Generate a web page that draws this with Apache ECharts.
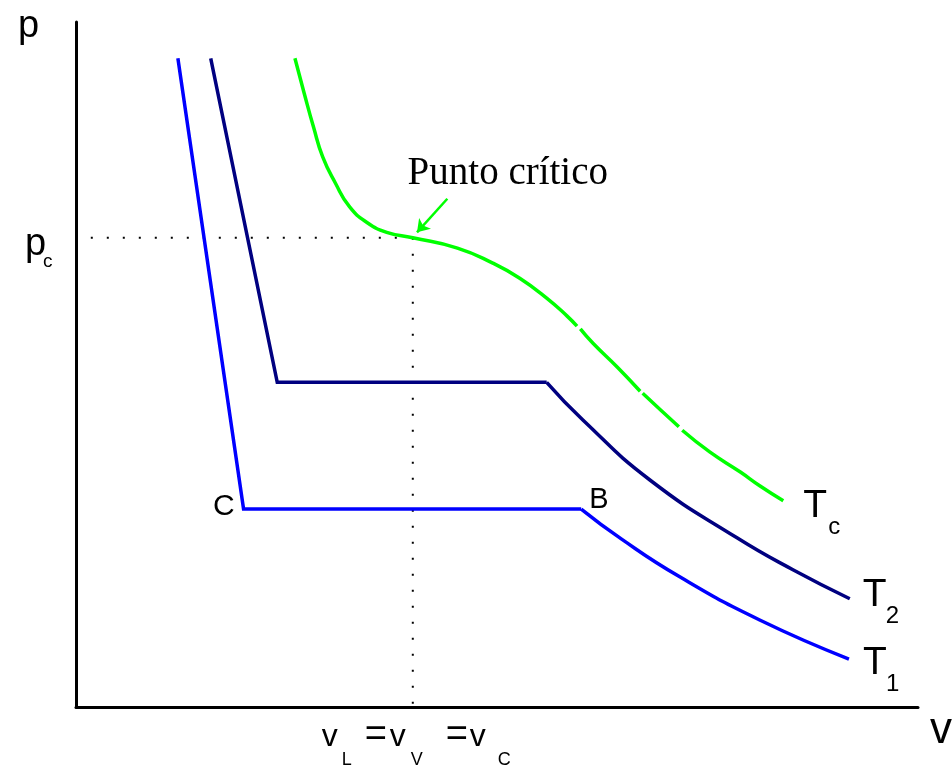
<!DOCTYPE html>
<html>
<head>
<meta charset="utf-8">
<script src="https://cdn.jsdelivr.net/npm/echarts@6/dist/echarts.min.js"></script>
<style>
  html, body { margin: 0; padding: 0; background: #fff; }
  #chart { width: 952px; height: 767px; }
</style>
</head>
<body>
<div id="chart"></div>
<script>
// p-v diagram: isotherms T1 < T2 < Tc (arbitrary units, v and p from 0 to 10)
const critical = [4.00, 6.85];               // [v_c, p_c]

// T1: compressed-liquid branch and liquid-vapour plateau (C -> B), then vapour branch
const t1Liquid = [[1.21, 9.47], [1.99, 2.89], [6.00, 2.89]];
const t1Vapor = [[6.00, 2.89], [6.48, 2.45], [7.17, 1.90], [8.12, 1.27], [9.18, 0.70]];

// T2: same structure, higher plateau
const t2Liquid = [[1.60, 9.47], [2.39, 4.74], [5.59, 4.74]];
const t2Vapor = [[5.59, 4.74], [6.02, 4.19], [6.82, 3.31], [7.85, 2.47], [8.52, 2.00], [9.19, 1.58]];

// Critical isotherm Tc (null = break in the stroke)
const tc = [[2.60, 9.47], [2.71, 8.96], [2.82, 8.47], [2.93, 8.03], [3.08, 7.65], [3.25, 7.30],
            [3.46, 7.07], [3.69, 6.93], [4.00, 6.85], [4.53, 6.70], [4.95, 6.48], [5.27, 6.26],
            [5.59, 5.97], [5.83, 5.71], [5.95, 5.56], null,
            [5.99, 5.52], [6.14, 5.31], [6.43, 4.96], [6.70, 4.61], null,
            [6.73, 4.58], [6.94, 4.34], [7.16, 4.09], null,
            [7.20, 4.04], [7.53, 3.72], [7.89, 3.43], [8.12, 3.23], [8.40, 3.01]];

// arrow pointing at the critical point
const arrowFrom = [4.41, 7.42];
const arrowTo = [4.05, 6.93];

const SANS = '"Liberation Sans", Arial, sans-serif';
const SERIF = '"Liberation Serif", "Times New Roman", serif';
const BLUE = '#0000ff', NAVY = '#000080', GREEN = '#00ff00';
const LW = 3.5;

function splitAtNulls(arr) {
  const out = [[]];
  arr.forEach(p => { if (p === null) out.push([]); else out[out.length - 1].push(p); });
  return out.filter(s => s.length > 1);
}

function curve(data, color, smooth) {
  return {
    type: 'line', data, smooth: smooth ? 0.5 : false,
    symbol: 'none', silent: true,
    lineStyle: { color, width: LW, join: 'miter' }, z: 3
  };
}

function dotted(data) {
  return {
    type: 'line', data, symbol: 'none', silent: true,
    lineStyle: { color: '#000', width: 2, type: [2, 14] }, z: 2
  };
}

const series = [
  dotted([critical, [0, critical[1]]]),
  dotted([critical, [critical[0], 0]]),
  curve(t1Liquid, BLUE, false),
  curve(t1Vapor, BLUE, true),
  curve(t2Liquid, NAVY, false),
  curve(t2Vapor, NAVY, true)
];
splitAtNulls(tc).forEach((seg, i) => {
  const s = curve(seg, GREEN, true);
  if (i === 0) {
    s.markLine = {
      silent: true, animation: false,
      symbol: ['none', 'arrow'], symbolSize: 12,
      label: { show: false },
      lineStyle: { color: GREEN, width: 2.5, type: 'solid' },
      data: [[{ coord: arrowFrom }, { coord: arrowTo }]]
    };
  }
  series.push(s);
});

const chart = echarts.init(document.getElementById('chart'), null, { renderer: 'canvas' });

const plainAxis = {
  type: 'value', min: 0, max: 10,
  axisLine: { show: true, onZero: false, lineStyle: { color: '#000', width: 3 } },
  axisTick: { show: false }, axisLabel: { show: false }, splitLine: { show: false }
};

chart.setOption({
  animation: false,
  backgroundColor: '#fff',
  grid: { left: 76, right: 34, top: 22, bottom: 60 },
  xAxis: Object.assign({}, plainAxis),
  yAxis: Object.assign({}, plainAxis),
  series
});

// text placed by its alphabetic baseline
function txt(text, x, baseline, size, family, align) {
  return {
    type: 'text', silent: true, z: 10,
    x: x, y: baseline - 0.30 * size,
    style: {
      text, font: size + 'px ' + (family || SANS), fill: '#000',
      textAlign: align || 'left', textVerticalAlign: 'middle', verticalAlign: 'middle'
    }
  };
}

const px = d => chart.convertToPixel({ gridIndex: 0 }, d);
const cp = px(critical);
const origin = px([0, 0]);
const xEnd = px([10, 0]);
const t1End = px(t1Vapor[t1Vapor.length - 1]);
const t2End = px(t2Vapor[t2Vapor.length - 1]);
const tcAll = tc.filter(p => p !== null);
const tcEnd = px(tcAll[tcAll.length - 1]);
const cPt = px(t1Liquid[1]);
const bPt = px(t1Liquid[2]);

const graphics = [
  // axis names
  txt('p', origin[0] - 58, 38, 38),
  txt('v', xEnd[0] + 12, origin[1] + 37, 44),
  // critical pressure
  txt('p', origin[0] - 51, cp[1] + 18, 38),
  txt('c', origin[0] - 33, cp[1] + 30, 19),
  // critical volume
  txt('v', cp[0] - 91, origin[1] + 40, 32),
  txt('L', cp[0] - 71, origin[1] + 58, 18),
  txt('=', cp[0] - 48, origin[1] + 40, 38),
  txt('v', cp[0] - 23, origin[1] + 40, 32),
  txt('V', cp[0] - 2, origin[1] + 58, 18),
  txt('=', cp[0] + 33, origin[1] + 40, 38),
  txt('v', cp[0] + 57, origin[1] + 40, 32),
  txt('C', cp[0] + 85, origin[1] + 58, 18),
  // points on T1
  txt('C', cPt[0] - 9, cPt[1] + 7, 30, SANS, 'right'),
  txt('B', bPt[0] + 8, bPt[1], 29),
  // isotherm labels
  txt('T', tcEnd[0] + 20, tcEnd[1] + 17, 39),
  txt('c', tcEnd[0] + 45, tcEnd[1] + 34, 24),
  txt('T', t2End[0] + 13, t2End[1] + 8, 39),
  txt('2', t2End[0] + 36, t2End[1] + 25, 24),
  txt('T', t1End[0] + 14, t1End[1] + 16, 39),
  txt('1', t1End[0] + 37, t1End[1] + 33, 24),
  // critical point annotation
  txt('Punto crítico', cp[0] + 95, cp[1] - 52, 39, SERIF, 'center')
];

chart.setOption({ graphic: graphics });
</script>
</body>
</html>
